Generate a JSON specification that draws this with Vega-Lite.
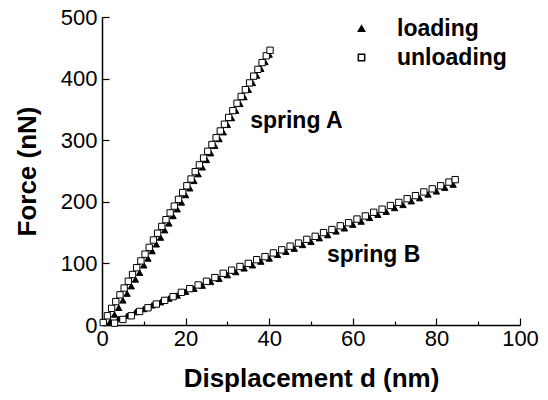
{
  "$schema": "https://vega.github.io/schema/vega-lite/v6.json",
  "autosize": "none",
  "width": 418,
  "height": 308,
  "padding": {"left": 102, "top": 17, "right": 28, "bottom": 75},
  "background": "white",
  "config": {
    "font": "Liberation Sans",
    "view": {"stroke": null},
    "axis": {"grid": false, "domainColor": "black", "domainWidth": 1.5, "tickColor": "black", "tickWidth": 1.2, "labelColor": "black", "titleColor": "black", "labelFont": "Liberation Sans", "titleFont": "Liberation Sans", "labelFontSize": 22, "titleFontSize": 26, "titleFontWeight": "bold", "labelFlush": false}
  },
  "datasets": {
    "pts": [
      {"spring": "A", "series": "loading", "d": 2, "F": 6},
      {"spring": "A", "series": "loading", "d": 3, "F": 17},
      {"spring": "A", "series": "loading", "d": 4, "F": 28},
      {"spring": "A", "series": "loading", "d": 5, "F": 40},
      {"spring": "A", "series": "loading", "d": 6, "F": 51},
      {"spring": "A", "series": "loading", "d": 7, "F": 63},
      {"spring": "A", "series": "loading", "d": 8, "F": 74},
      {"spring": "A", "series": "loading", "d": 9, "F": 85},
      {"spring": "A", "series": "loading", "d": 10, "F": 97},
      {"spring": "A", "series": "loading", "d": 11, "F": 108},
      {"spring": "A", "series": "loading", "d": 12, "F": 120},
      {"spring": "A", "series": "loading", "d": 13, "F": 131},
      {"spring": "A", "series": "loading", "d": 14, "F": 142},
      {"spring": "A", "series": "loading", "d": 15, "F": 154},
      {"spring": "A", "series": "loading", "d": 16, "F": 165},
      {"spring": "A", "series": "loading", "d": 17, "F": 177},
      {"spring": "A", "series": "loading", "d": 18, "F": 188},
      {"spring": "A", "series": "loading", "d": 19, "F": 199},
      {"spring": "A", "series": "loading", "d": 20, "F": 211},
      {"spring": "A", "series": "loading", "d": 21, "F": 222},
      {"spring": "A", "series": "loading", "d": 22, "F": 234},
      {"spring": "A", "series": "loading", "d": 23, "F": 245},
      {"spring": "A", "series": "loading", "d": 24, "F": 256},
      {"spring": "A", "series": "loading", "d": 25, "F": 268},
      {"spring": "A", "series": "loading", "d": 26, "F": 279},
      {"spring": "A", "series": "loading", "d": 27, "F": 291},
      {"spring": "A", "series": "loading", "d": 28, "F": 302},
      {"spring": "A", "series": "loading", "d": 29, "F": 313},
      {"spring": "A", "series": "loading", "d": 30, "F": 325},
      {"spring": "A", "series": "loading", "d": 31, "F": 336},
      {"spring": "A", "series": "loading", "d": 32, "F": 348},
      {"spring": "A", "series": "loading", "d": 33, "F": 359},
      {"spring": "A", "series": "loading", "d": 34, "F": 370},
      {"spring": "A", "series": "loading", "d": 35, "F": 382},
      {"spring": "A", "series": "loading", "d": 36, "F": 393},
      {"spring": "A", "series": "loading", "d": 37, "F": 405},
      {"spring": "A", "series": "loading", "d": 38, "F": 416},
      {"spring": "A", "series": "loading", "d": 39, "F": 427},
      {"spring": "A", "series": "loading", "d": 40, "F": 439},
      {"spring": "B", "series": "loading", "d": 2, "F": 4},
      {"spring": "B", "series": "loading", "d": 4, "F": 10},
      {"spring": "B", "series": "loading", "d": 6, "F": 15},
      {"spring": "B", "series": "loading", "d": 8, "F": 21},
      {"spring": "B", "series": "loading", "d": 10, "F": 26},
      {"spring": "B", "series": "loading", "d": 12, "F": 32},
      {"spring": "B", "series": "loading", "d": 14, "F": 37},
      {"spring": "B", "series": "loading", "d": 16, "F": 43},
      {"spring": "B", "series": "loading", "d": 18, "F": 48},
      {"spring": "B", "series": "loading", "d": 20, "F": 54},
      {"spring": "B", "series": "loading", "d": 22, "F": 59},
      {"spring": "B", "series": "loading", "d": 24, "F": 64},
      {"spring": "B", "series": "loading", "d": 26, "F": 70},
      {"spring": "B", "series": "loading", "d": 28, "F": 75},
      {"spring": "B", "series": "loading", "d": 30, "F": 81},
      {"spring": "B", "series": "loading", "d": 32, "F": 86},
      {"spring": "B", "series": "loading", "d": 34, "F": 92},
      {"spring": "B", "series": "loading", "d": 36, "F": 97},
      {"spring": "B", "series": "loading", "d": 38, "F": 103},
      {"spring": "B", "series": "loading", "d": 40, "F": 108},
      {"spring": "B", "series": "loading", "d": 42, "F": 114},
      {"spring": "B", "series": "loading", "d": 44, "F": 119},
      {"spring": "B", "series": "loading", "d": 46, "F": 124},
      {"spring": "B", "series": "loading", "d": 48, "F": 130},
      {"spring": "B", "series": "loading", "d": 50, "F": 135},
      {"spring": "B", "series": "loading", "d": 52, "F": 141},
      {"spring": "B", "series": "loading", "d": 54, "F": 146},
      {"spring": "B", "series": "loading", "d": 56, "F": 152},
      {"spring": "B", "series": "loading", "d": 58, "F": 157},
      {"spring": "B", "series": "loading", "d": 60, "F": 163},
      {"spring": "B", "series": "loading", "d": 62, "F": 168},
      {"spring": "B", "series": "loading", "d": 64, "F": 174},
      {"spring": "B", "series": "loading", "d": 66, "F": 179},
      {"spring": "B", "series": "loading", "d": 68, "F": 184},
      {"spring": "B", "series": "loading", "d": 70, "F": 190},
      {"spring": "B", "series": "loading", "d": 72, "F": 195},
      {"spring": "B", "series": "loading", "d": 74, "F": 201},
      {"spring": "B", "series": "loading", "d": 76, "F": 206},
      {"spring": "B", "series": "loading", "d": 78, "F": 212},
      {"spring": "B", "series": "loading", "d": 80, "F": 217},
      {"spring": "B", "series": "loading", "d": 82, "F": 223},
      {"spring": "B", "series": "loading", "d": 84, "F": 228},
      {"spring": "A", "series": "unloading", "d": 0.3, "F": 4},
      {"spring": "A", "series": "unloading", "d": 1.3, "F": 15},
      {"spring": "A", "series": "unloading", "d": 2.3, "F": 27},
      {"spring": "A", "series": "unloading", "d": 3.3, "F": 38},
      {"spring": "A", "series": "unloading", "d": 4.3, "F": 49},
      {"spring": "A", "series": "unloading", "d": 5.3, "F": 60},
      {"spring": "A", "series": "unloading", "d": 6.3, "F": 71},
      {"spring": "A", "series": "unloading", "d": 7.3, "F": 82},
      {"spring": "A", "series": "unloading", "d": 8.3, "F": 93},
      {"spring": "A", "series": "unloading", "d": 9.3, "F": 104},
      {"spring": "A", "series": "unloading", "d": 10.3, "F": 115},
      {"spring": "A", "series": "unloading", "d": 11.3, "F": 126},
      {"spring": "A", "series": "unloading", "d": 12.3, "F": 138},
      {"spring": "A", "series": "unloading", "d": 13.3, "F": 149},
      {"spring": "A", "series": "unloading", "d": 14.3, "F": 160},
      {"spring": "A", "series": "unloading", "d": 15.3, "F": 171},
      {"spring": "A", "series": "unloading", "d": 16.3, "F": 182},
      {"spring": "A", "series": "unloading", "d": 17.3, "F": 193},
      {"spring": "A", "series": "unloading", "d": 18.3, "F": 204},
      {"spring": "A", "series": "unloading", "d": 19.3, "F": 215},
      {"spring": "A", "series": "unloading", "d": 20.3, "F": 226},
      {"spring": "A", "series": "unloading", "d": 21.3, "F": 237},
      {"spring": "A", "series": "unloading", "d": 22.3, "F": 249},
      {"spring": "A", "series": "unloading", "d": 23.3, "F": 260},
      {"spring": "A", "series": "unloading", "d": 24.3, "F": 271},
      {"spring": "A", "series": "unloading", "d": 25.3, "F": 282},
      {"spring": "A", "series": "unloading", "d": 26.3, "F": 293},
      {"spring": "A", "series": "unloading", "d": 27.3, "F": 304},
      {"spring": "A", "series": "unloading", "d": 28.3, "F": 315},
      {"spring": "A", "series": "unloading", "d": 29.3, "F": 326},
      {"spring": "A", "series": "unloading", "d": 30.3, "F": 337},
      {"spring": "A", "series": "unloading", "d": 31.3, "F": 348},
      {"spring": "A", "series": "unloading", "d": 32.3, "F": 360},
      {"spring": "A", "series": "unloading", "d": 33.3, "F": 371},
      {"spring": "A", "series": "unloading", "d": 34.3, "F": 382},
      {"spring": "A", "series": "unloading", "d": 35.3, "F": 393},
      {"spring": "A", "series": "unloading", "d": 36.3, "F": 404},
      {"spring": "A", "series": "unloading", "d": 37.3, "F": 415},
      {"spring": "A", "series": "unloading", "d": 38.3, "F": 426},
      {"spring": "A", "series": "unloading", "d": 39.3, "F": 437},
      {"spring": "A", "series": "unloading", "d": 40.2, "F": 446},
      {"spring": "B", "series": "unloading", "d": 3, "F": 3},
      {"spring": "B", "series": "unloading", "d": 5, "F": 9},
      {"spring": "B", "series": "unloading", "d": 7, "F": 15},
      {"spring": "B", "series": "unloading", "d": 9, "F": 22},
      {"spring": "B", "series": "unloading", "d": 11, "F": 28},
      {"spring": "B", "series": "unloading", "d": 13, "F": 34},
      {"spring": "B", "series": "unloading", "d": 15, "F": 40},
      {"spring": "B", "series": "unloading", "d": 17, "F": 46},
      {"spring": "B", "series": "unloading", "d": 19, "F": 53},
      {"spring": "B", "series": "unloading", "d": 21, "F": 59},
      {"spring": "B", "series": "unloading", "d": 23, "F": 65},
      {"spring": "B", "series": "unloading", "d": 25, "F": 71},
      {"spring": "B", "series": "unloading", "d": 27, "F": 77},
      {"spring": "B", "series": "unloading", "d": 29, "F": 84},
      {"spring": "B", "series": "unloading", "d": 31, "F": 89},
      {"spring": "B", "series": "unloading", "d": 33, "F": 95},
      {"spring": "B", "series": "unloading", "d": 35, "F": 100},
      {"spring": "B", "series": "unloading", "d": 37, "F": 106},
      {"spring": "B", "series": "unloading", "d": 39, "F": 111},
      {"spring": "B", "series": "unloading", "d": 41, "F": 117},
      {"spring": "B", "series": "unloading", "d": 43, "F": 122},
      {"spring": "B", "series": "unloading", "d": 45, "F": 128},
      {"spring": "B", "series": "unloading", "d": 47, "F": 133},
      {"spring": "B", "series": "unloading", "d": 49, "F": 139},
      {"spring": "B", "series": "unloading", "d": 51, "F": 144},
      {"spring": "B", "series": "unloading", "d": 53, "F": 150},
      {"spring": "B", "series": "unloading", "d": 55, "F": 155},
      {"spring": "B", "series": "unloading", "d": 57, "F": 161},
      {"spring": "B", "series": "unloading", "d": 59, "F": 166},
      {"spring": "B", "series": "unloading", "d": 61, "F": 172},
      {"spring": "B", "series": "unloading", "d": 63, "F": 177},
      {"spring": "B", "series": "unloading", "d": 65, "F": 183},
      {"spring": "B", "series": "unloading", "d": 67, "F": 188},
      {"spring": "B", "series": "unloading", "d": 69, "F": 194},
      {"spring": "B", "series": "unloading", "d": 71, "F": 199},
      {"spring": "B", "series": "unloading", "d": 73, "F": 205},
      {"spring": "B", "series": "unloading", "d": 75, "F": 210},
      {"spring": "B", "series": "unloading", "d": 77, "F": 216},
      {"spring": "B", "series": "unloading", "d": 79, "F": 221},
      {"spring": "B", "series": "unloading", "d": 81, "F": 226},
      {"spring": "B", "series": "unloading", "d": 83, "F": 232},
      {"spring": "B", "series": "unloading", "d": 84.5, "F": 236}
    ],
    "labels": [
      {"d": 46.5, "F": 331, "text": "spring A"},
      {"d": 65, "F": 114, "text": "spring B"}
    ]
  },
  "layer": [
    {
      "data": {"name": "pts"},
      "mark": {"type": "point", "filled": false, "stroke": "black", "strokeWidth": 1, "opacity": 1, "size": 40},
      "encoding": {
        "x": {"field": "d", "type": "quantitative", "scale": {"domain": [0, 100], "nice": false},
          "axis": {"title": "Displacement d (nm)", "values": [0, 10, 20, 30, 40, 50, 60, 70, 80, 90, 100], "labelExpr": "datum.value % 20 === 0 ? datum.label : ''", "tickSize": {"condition": {"test": "datum.value % 20 === 0", "value": -7}, "value": -4}, "labelPadding": 10, "titlePadding": 16}},
        "y": {"field": "F", "type": "quantitative", "scale": {"domain": [0, 500], "nice": false},
          "axis": {"title": "Force (nN)", "values": [0, 50, 100, 150, 200, 250, 300, 350, 400, 450, 500], "labelExpr": "datum.value % 100 === 0 ? datum.label : ''", "tickSize": {"condition": {"test": "datum.value % 100 === 0", "value": -7}, "value": -4}, "labelPadding": 12, "titlePadding": 20}},
        "shape": {"field": "series", "type": "nominal", "scale": {"domain": ["loading", "unloading"], "range": ["triangle-up", "square"]},
          "legend": {"title": null, "orient": "none", "legendX": 248, "legendY": 0, "padding": 0, "labelFontSize": 23, "labelFontWeight": "bold", "labelFont": "Liberation Sans", "labelColor": "black", "labelOffset": 24, "rowPadding": 5, "symbolSize": 40,
            "encode": {"symbols": {"update": {"stroke": {"value": "black"}, "strokeWidth": {"value": 1}}}}}},
        "fill": {"field": "series", "type": "nominal", "scale": {"domain": ["loading", "unloading"], "range": ["black", "white"]},
          "legend": {"title": null, "orient": "none", "legendX": 248, "legendY": 0, "padding": 0, "labelFontSize": 23, "labelFontWeight": "bold", "labelFont": "Liberation Sans", "labelColor": "black", "labelOffset": 24, "rowPadding": 5, "symbolSize": 40,
            "encode": {"symbols": {"update": {"stroke": {"value": "black"}, "strokeWidth": {"value": 1}}}}}}
      }
    },
    {
      "data": {"name": "labels"},
      "mark": {"type": "text", "font": "Liberation Sans", "fontWeight": "bold", "fontSize": 23, "color": "black", "align": "center", "baseline": "middle"},
      "encoding": {
        "x": {"field": "d", "type": "quantitative"},
        "y": {"field": "F", "type": "quantitative"},
        "text": {"field": "text", "type": "nominal"}
      }
    }
  ]
}
